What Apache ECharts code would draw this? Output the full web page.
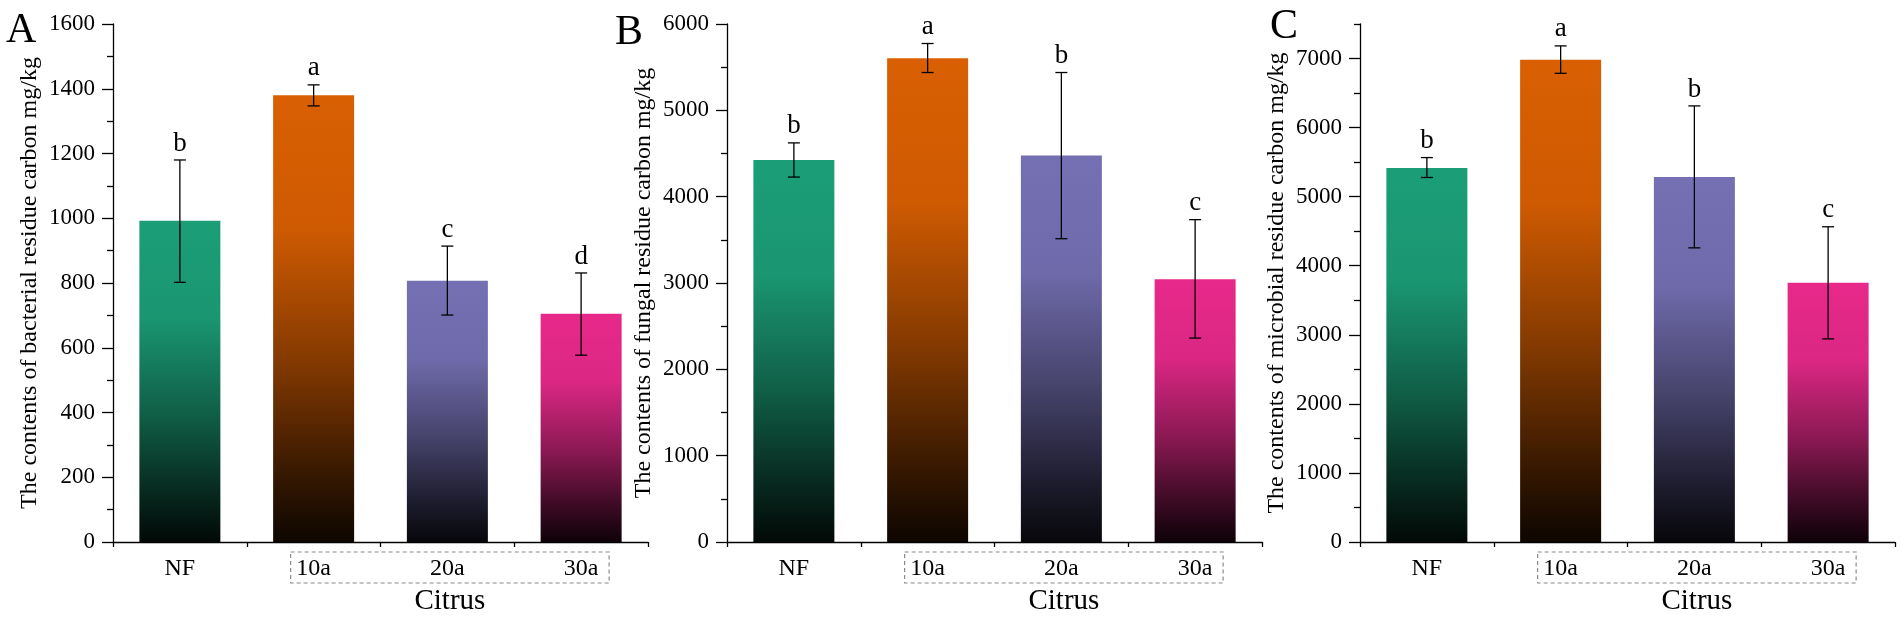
<!DOCTYPE html>
<html>
<head>
<meta charset="utf-8">
<script src="https://cdn.jsdelivr.net/npm/echarts@6/dist/echarts.min.js"></script>
<style>
html,body{margin:0;padding:0;background:#fff;}
#main{width:1902px;height:622px;}
</style>
</head>
<body>
<div id="main"></div>
<script>
// categories and colours
const categories=['NF','10a','20a','30a'];
const barColors=['#1b9e77','#d95f02','#7570b3','#e7298a'];

// A - bacterial residue carbon
const bacterialMean=[992,1380,807,705];
const bacterialUpper=[1180,1412,914,831];
const bacterialLower=[802,1347,701,577];
const bacterialLetters=['b','a','c','d'];
const bacterialTicks=[0,200,400,600,800,1000,1200,1400,1600];
const bacterialMinor=[100,300,500,700,900,1100,1300,1500];

// B - fungal residue carbon
const fungalMean=[4425,5604,4476,3044];
const fungalUpper=[4623,5774,5438,3734];
const fungalLower=[4227,5438,3513,2362];
const fungalLetters=['b','a','b','c'];
const fungalTicks=[0,1000,2000,3000,4000,5000,6000];
const fungalMinor=[500,1500,2500,3500,4500,5500];

// C - microbial residue carbon
const microbialMean=[5416,6982,5284,3753];
const microbialUpper=[5566,7183,6314,4564];
const microbialLower=[5278,6786,4259,2941];
const microbialLetters=['b','a','b','c'];
const microbialTicks=[0,1000,2000,3000,4000,5000,6000,7000];
const microbialMinor=[500,1500,2500,3500,4500,5500,6500,7500];

const FONT="'Liberation Serif','Times New Roman',serif";

const panels=[
    {tag:'A',left:113,max:1600,name:'The contents of bacterial residue carbon mg/kg',
     mean:bacterialMean,upper:bacterialUpper,lower:bacterialLower,letters:bacterialLetters,ticks:bacterialTicks,minor:bacterialMinor},
    {tag:'B',left:727,max:6000,name:'The contents of fungal residue carbon mg/kg',
     mean:fungalMean,upper:fungalUpper,lower:fungalLower,letters:fungalLetters,ticks:fungalTicks,minor:fungalMinor},
    {tag:'C',left:1360,max:7500,name:'The contents of microbial residue carbon mg/kg',
     mean:microbialMean,upper:microbialUpper,lower:microbialLower,letters:microbialLetters,ticks:microbialTicks,minor:microbialMinor},
];

//颜色变暗
function shade(hex,k){
    let n=parseInt(hex.slice(1),16);
    let r=Math.round(((n>>16)&255)*k),g=Math.round(((n>>8)&255)*k),b=Math.round((n&255)*k);
    return 'rgb('+r+','+g+','+b+')';
}

function barGradient(c){
    return new echarts.graphic.LinearGradient(0,0,0,1,[
        {offset:0,color:c},
        {offset:0.3,color:shade(c,0.95)},
        {offset:0.6,color:shade(c,0.6)},
        {offset:0.85,color:shade(c,0.25)},
        {offset:1,color:shade(c,0.06)}
    ]);
}

let myChart=echarts.init(document.getElementById('main'));
let grid=[],xAxis=[],yAxis=[],series=[];
const lineStyle={color:'#000',width:1.3};

panels.forEach((p,i)=>{
    grid.push({left:p.left,top:24,width:535,height:518});
    //主轴：居中刻度+标签
    xAxis.push({
        type:'category',gridIndex:i,data:categories,position:'bottom',
        axisLine:{lineStyle:lineStyle},
        axisTick:{alignWithLabel:true,length:10,lineStyle:lineStyle},
        axisLabel:{color:'#000',fontFamily:FONT,fontSize:24,margin:15},
    });
    //分界刻度
    xAxis.push({
        type:'category',gridIndex:i,data:categories,position:'bottom',
        axisLine:{show:true,lineStyle:{color:'#000',opacity:0}},
        axisTick:{show:true,length:5,lineStyle:lineStyle},
        axisLabel:{show:false},
    });
    yAxis.push({
        type:'value',gridIndex:i,min:0,max:p.max,position:'left',
        name:p.name,nameLocation:'middle',nameGap:71,
        nameTextStyle:{color:'#000',fontFamily:FONT,fontSize:24},
        splitLine:{show:false},
        axisLine:{show:true,lineStyle:lineStyle},
        axisTick:{show:true,length:11,customValues:p.ticks,lineStyle:lineStyle},
        axisLabel:{color:'#000',fontFamily:FONT,fontSize:23,margin:18,customValues:p.ticks,
            formatter:(v)=>String(v)},
    });
    yAxis.push({
        type:'value',gridIndex:i,min:0,max:p.max,position:'left',
        splitLine:{show:false},
        axisLine:{show:true,lineStyle:{color:'#000',opacity:0}},
        axisTick:{show:true,length:6,customValues:p.minor,lineStyle:lineStyle},
        axisLabel:{show:false},
    });
    series.push({
        type:'bar',xAxisIndex:i*2,yAxisIndex:i*2,barWidth:81,
        data:p.mean.map((v,k)=>({value:v,itemStyle:{color:barGradient(barColors[k])}})),
        z:2,
    });
    series.push({
        type:'custom',xAxisIndex:i*2,yAxisIndex:i*2,z:3,
        data:categories.map((c,k)=>[k,p.lower[k],p.upper[k]]),
        renderItem:function(params,api){
            let hi=api.coord([api.value(0),api.value(2)]);
            let lo=api.coord([api.value(0),api.value(1)]);
            let x=hi[0],w=6;
            let st={stroke:'#000',lineWidth:1.3};
            return {
                type:'group',
                children:[
                    {type:'line',shape:{x1:x,y1:hi[1],x2:x,y2:lo[1]},style:st},
                    {type:'line',shape:{x1:x-w,y1:hi[1],x2:x+w,y2:hi[1]},style:st},
                    {type:'line',shape:{x1:x-w,y1:lo[1],x2:x+w,y2:lo[1]},style:st},
                    {type:'text',x:x,y:hi[1]-3,style:{
                        text:p.letters[params.dataIndex],fill:'#000',
                        font:'27px '+FONT,align:'center',verticalAlign:'bottom'}},
                ]
            };
        },
    });
});

let option={
    animation:false,
    backgroundColor:'#fff',
    grid:grid,
    xAxis:xAxis,
    yAxis:yAxis,
    series:series,
};
myChart.setOption(option);

//虚线框 + Citrus + 面板字母
let graphic=[];
let tagPos=[[6,10],[615,12],[1270,6]];
panels.forEach((p,i)=>{
    let x1=myChart.convertToPixel({xAxisIndex:i*2},'10a');
    let x3=myChart.convertToPixel({xAxisIndex:i*2},'30a');
    let y0=myChart.convertToPixel({yAxisIndex:i*2},0);
    let left=x1-23,right=x3+28;
    graphic.push({
        type:'rect',shape:{x:left,y:y0+10,width:right-left,height:31},
        style:{fill:'none',stroke:'#8a8a8a',lineWidth:1.2,lineDash:[4,3]},
        silent:true,
    });
    graphic.push({
        type:'text',x:(left+right)/2,y:y0+59,
        style:{text:'Citrus',fill:'#000',font:'29px '+FONT,align:'center',verticalAlign:'middle'},
    });
    graphic.push({
        type:'text',x:tagPos[i][0],y:tagPos[i][1],
        style:{text:p.tag,fill:'#000',font:'42px '+FONT,align:'left',verticalAlign:'top'},
    });
});
myChart.setOption({graphic:graphic});
</script>
</body>
</html>
